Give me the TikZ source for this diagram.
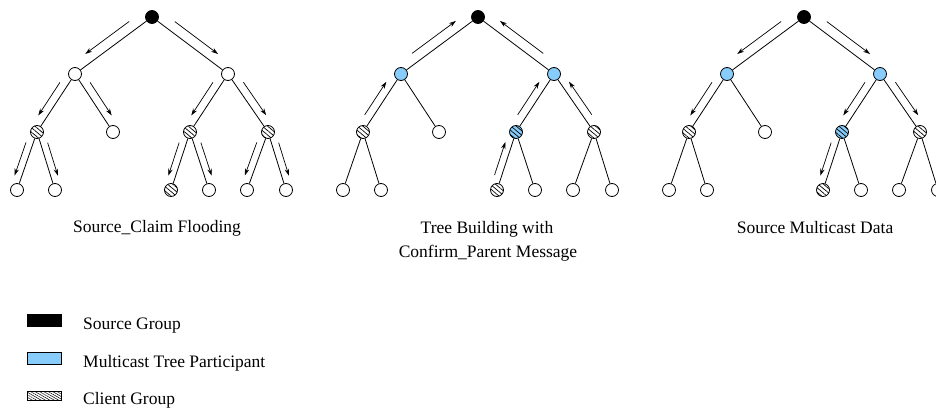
\documentclass[tikz,border=0pt]{standalone}
\usepackage{fontspec}
\setmainfont{Liberation Serif}
\usetikzlibrary{calc,arrows.meta,patterns.meta}
\definecolor{mtpblue}{RGB}{135,204,250}
\tikzset{
  nd/.style={circle,draw,line width=0.8pt,minimum size=13pt,inner sep=0pt,fill=white},
  src/.style={nd,fill=black},
  mtp/.style={nd,fill=mtpblue},
  cli/.style={nd,preaction={fill=white},pattern={Lines[angle=-40,distance=3.4pt,line width=0.7pt]}},
  clib/.style={nd,preaction={fill=mtpblue},pattern={Lines[angle=-40,distance=3.4pt,line width=0.7pt]}},
  edge/.style={line width=0.8pt},
  arr/.style={line width=0.7pt,-{Stealth[length=7pt,width=4.5pt]}},
  lbl/.style={font=\fontsize{17.5}{21}\selectfont,anchor=base,inner sep=0pt},
  leg/.style={font=\fontsize{17.5}{21}\selectfont,anchor=base west,inner sep=0pt}
}
\newcommand\myarr[4]{\draw[arr] ($(#1)!0.22!(#2)!#4!#3:(#2)$) -- ($(#1)!0.79!(#2)!#4!#3:(#2)$);}
\begin{document}
\begin{tikzpicture}[x=1pt,y=-1pt]
\useasboundingbox (0,0) rectangle (936,412);
\clip (0,0) rectangle (936,412);
% ---------- Tree 1 ----------
\node[src] (r1) at (152,17) {};
\node[nd] (a1) at (75,74) {};
\node[nd] (b1) at (228,74) {};
\node[cli] (aa1) at (37,132) {};
\node[nd] (ab1) at (113,132) {};
\node[cli] (ba1) at (190,132) {};
\node[cli] (bb1) at (268,132) {};
\node[nd] (aaa1) at (17,190) {};
\node[nd] (aab1) at (55,190) {};
\node[cli] (baa1) at (171,190) {};
\node[nd] (bab1) at (209,190) {};
\node[nd] (bba1) at (247,190) {};
\node[nd] (bbb1) at (286,190) {};
\foreach \p/\c in {r1/a1,r1/b1,a1/aa1,a1/ab1,b1/ba1,b1/bb1,aa1/aaa1,aa1/aab1,ba1/baa1,ba1/bab1,bb1/bba1,bb1/bbb1}
  \draw[edge] (\p) -- (\c);
\myarr{r1}{a1}{-90}{10pt}
\myarr{r1}{b1}{90}{10pt}
\myarr{a1}{aa1}{-90}{8pt}
\myarr{a1}{ab1}{90}{8pt}
\myarr{b1}{ba1}{-90}{8pt}
\myarr{b1}{bb1}{90}{8pt}
\myarr{aa1}{aaa1}{-90}{7pt}
\myarr{aa1}{aab1}{90}{7pt}
\myarr{ba1}{baa1}{-90}{7pt}
\myarr{ba1}{bab1}{90}{7pt}
\myarr{bb1}{bba1}{-90}{7pt}
\myarr{bb1}{bbb1}{90}{7pt}
\node[lbl] (l1) at (157,232) {Source\_Claim Flooding};
% ---------- Tree 2 ----------
\node[src] (r2) at (478,17) {};
\node[mtp] (a2) at (401,74) {};
\node[mtp] (b2) at (554,74) {};
\node[cli] (aa2) at (363,132) {};
\node[nd] (ab2) at (439,132) {};
\node[clib] (ba2) at (516,132) {};
\node[cli] (bb2) at (594,132) {};
\node[nd] (aaa2) at (343,190) {};
\node[nd] (aab2) at (381,190) {};
\node[cli] (baa2) at (497,190) {};
\node[nd] (bab2) at (535,190) {};
\node[nd] (bba2) at (573,190) {};
\node[nd] (bbb2) at (612,190) {};
\foreach \p/\c in {r2/a2,r2/b2,a2/aa2,a2/ab2,b2/ba2,b2/bb2,aa2/aaa2,aa2/aab2,ba2/baa2,ba2/bab2,bb2/bba2,bb2/bbb2}
  \draw[edge] (\p) -- (\c);
\myarr{a2}{r2}{90}{10pt}
\myarr{b2}{r2}{-90}{10pt}
\myarr{aa2}{a2}{90}{8pt}
\myarr{ba2}{b2}{90}{8pt}
\myarr{bb2}{b2}{-90}{8pt}
\myarr{baa2}{ba2}{90}{7pt}
\node[lbl] (l2a) at (487,233) {Tree Building with};
\node[lbl] (l2b) at (488,257) {Confirm\_Parent Message};
% ---------- Tree 3 ----------
\node[src] (r3) at (804,17) {};
\node[mtp] (a3) at (727,74) {};
\node[mtp] (b3) at (880,74) {};
\node[cli] (aa3) at (689,132) {};
\node[nd] (ab3) at (765,132) {};
\node[clib] (ba3) at (842,132) {};
\node[cli] (bb3) at (920,132) {};
\node[nd] (aaa3) at (669,190) {};
\node[nd] (aab3) at (707,190) {};
\node[cli] (baa3) at (823,190) {};
\node[nd] (bab3) at (861,190) {};
\node[nd] (bba3) at (899,190) {};
\node[nd] (bbb3) at (938,190) {};
\foreach \p/\c in {r3/a3,r3/b3,a3/aa3,a3/ab3,b3/ba3,b3/bb3,aa3/aaa3,aa3/aab3,ba3/baa3,ba3/bab3,bb3/bba3,bb3/bbb3}
  \draw[edge] (\p) -- (\c);
\myarr{r3}{a3}{-90}{10pt}
\myarr{r3}{b3}{90}{10pt}
\myarr{a3}{aa3}{-90}{8pt}
\myarr{b3}{ba3}{-90}{8pt}
\myarr{b3}{bb3}{90}{8pt}
\myarr{ba3}{baa3}{-90}{7pt}
\node[lbl] (l3) at (815,233) {Source Multicast Data};
% ---------- Legend ----------
\draw[fill=black,line width=0.6pt] (27,314) rectangle (61,326);
\node[leg] (k1) at (83,329) {Source Group};
\draw[fill=mtpblue,line width=0.8pt] (27,352) rectangle (61,364);
\node[leg] (k2) at (83,367) {Multicast Tree Participant};
\draw[line width=0.6pt,pattern={Lines[angle=-30,distance=2.2pt,line width=0.5pt]}] (27,391) rectangle (61,400);
\node[leg] (k3) at (83,404) {Client Group};
\end{tikzpicture}
\end{document}
